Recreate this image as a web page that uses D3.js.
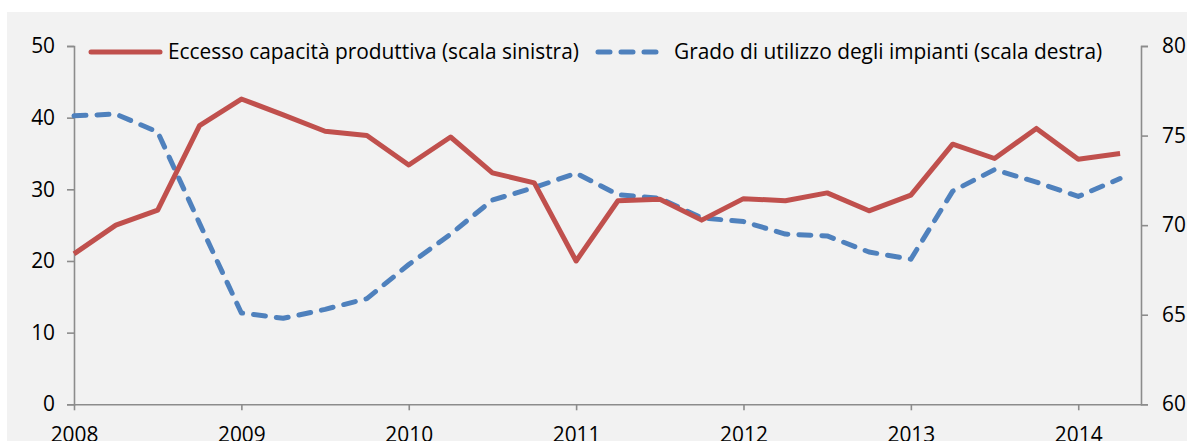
<!DOCTYPE html>
<html>
<head>
<meta charset="utf-8">
<script src="https://cdn.jsdelivr.net/npm/d3@7"></script>
<style>
  html, body { margin: 0; padding: 0; background: #ffffff; }
  svg { display: block; }
  text { font-family: "Open Sans", sans-serif; fill: #000; }
</style>
</head>
<body>
<svg id="chart" width="1187" height="441"></svg>
<script>
// Quarterly data, 2008 Q1 – 2014 Q2
const quarters = d3.range(26);
const yearLabels = ["2008", "2009", "2010", "2011", "2012", "2013", "2014"];
const eccesso = [21.0, 25.0, 27.1, 38.9, 42.6, 40.4, 38.1, 37.5, 33.4, 37.3, 32.3, 30.9, 20.0,
                 28.4, 28.6, 25.7, 28.7, 28.4, 29.5, 27.0, 29.2, 36.3, 34.3, 38.5, 34.2, 35.0];
const utilizzo = [76.1, 76.2, 75.2, 70.1, 65.1, 64.8, 65.3, 65.9, 67.8, 69.5, 71.4, 72.1, 72.9,
                  71.7, 71.5, 70.4, 70.2, 69.5, 69.4, 68.5, 68.1, 71.9, 73.1, 72.4, 71.6, 72.6];
const leftTicks = [0, 10, 20, 30, 40, 50];
const rightTicks = [60, 65, 70, 75, 80];
const legendLabels = ["Eccesso capacità produttiva (scala sinistra)", "Grado di utilizzo degli impianti (scala destra)"];

const svg = d3.select("#chart");
const W = 1187, H = 441;
const plot = { left: 74, right: 1141, top: 46, bottom: 404.3 };
const FONT = "'Open Sans', sans-serif";

svg.append("rect").attr("x", 7).attr("y", 12).attr("width", W - 7).attr("height", H - 12).attr("fill", "#f2f2f2");

// pick a font size so the legend label has the reference width
const probe = svg.append("text").attr("font-family", FONT).attr("font-size", 20).text(legendLabels[0]);
const probeW = probe.node().getComputedTextLength();
probe.remove();
const fontSize = Math.max(16, Math.min(21, 20 * 411 / probeW));

const x = d3.scaleLinear().domain([0, 25.5]).range([plot.left, plot.right]);
const yL = d3.scaleLinear().domain([0, 50]).range([plot.bottom, plot.top]);
const yR = d3.scaleLinear().domain([60, 80]).range([plot.bottom, plot.top]);

const axisColor = "#8c8c8c";

const gL = svg.append("g").attr("transform", `translate(${plot.left},0)`)
  .call(d3.axisLeft(yL).tickValues(leftTicks).tickSize(7).tickPadding(12));
const gR = svg.append("g").attr("transform", `translate(${plot.right},0)`)
  .call(d3.axisRight(yR).tickValues(rightTicks).tickSize(7).tickPadding(14));
const gB = svg.append("g").attr("transform", `translate(0,${plot.bottom})`)
  .call(d3.axisBottom(x).tickValues(d3.range(0, 25, 4)).tickFormat((d, i) => yearLabels[i]).tickSize(6).tickPadding(13).tickSizeOuter(0));

[gL, gR, gB].forEach(g => {
  g.select(".domain").attr("stroke", axisColor).attr("stroke-width", 1.6);
  g.selectAll(".tick line").attr("stroke", axisColor).attr("stroke-width", 1.6);
  g.selectAll(".tick text").attr("font-size", fontSize).attr("font-family", FONT).attr("fill", "#000");
});
gB.selectAll(".tick text").attr("dy", "0.9em");

const lineL = d3.line().x((d, i) => x(quarters[i])).y(d => yL(d));
const lineR = d3.line().x((d, i) => x(quarters[i])).y(d => yR(d));

svg.append("path").datum(utilizzo).attr("d", lineR)
  .attr("fill", "none").attr("stroke", "#4f81bd").attr("stroke-width", 5)
  .attr("stroke-dasharray", "12,11").attr("stroke-linecap", "round").attr("stroke-linejoin", "round");

svg.append("path").datum(eccesso).attr("d", lineL)
  .attr("fill", "none").attr("stroke", "#c0504d").attr("stroke-width", 5)
  .attr("stroke-linejoin", "round");

const lg = svg.append("g");
lg.append("line").attr("x1", 91).attr("x2", 160).attr("y1", 52).attr("y2", 52)
  .attr("stroke", "#c0504d").attr("stroke-width", 5).attr("stroke-linecap", "round");
lg.append("text").attr("x", 168).attr("y", 52).attr("dy", "0.35em").attr("font-size", fontSize).attr("font-family", FONT).text(legendLabels[0]);
lg.append("line").attr("x1", 598).attr("x2", 656).attr("y1", 52).attr("y2", 52)
  .attr("stroke", "#4f81bd").attr("stroke-width", 5).attr("stroke-linecap", "round").attr("stroke-dasharray", "12,11");
lg.append("text").attr("x", 674).attr("y", 52).attr("dy", "0.35em").attr("font-size", fontSize).attr("font-family", FONT).text(legendLabels[1]);
</script>
</body>
</html>
